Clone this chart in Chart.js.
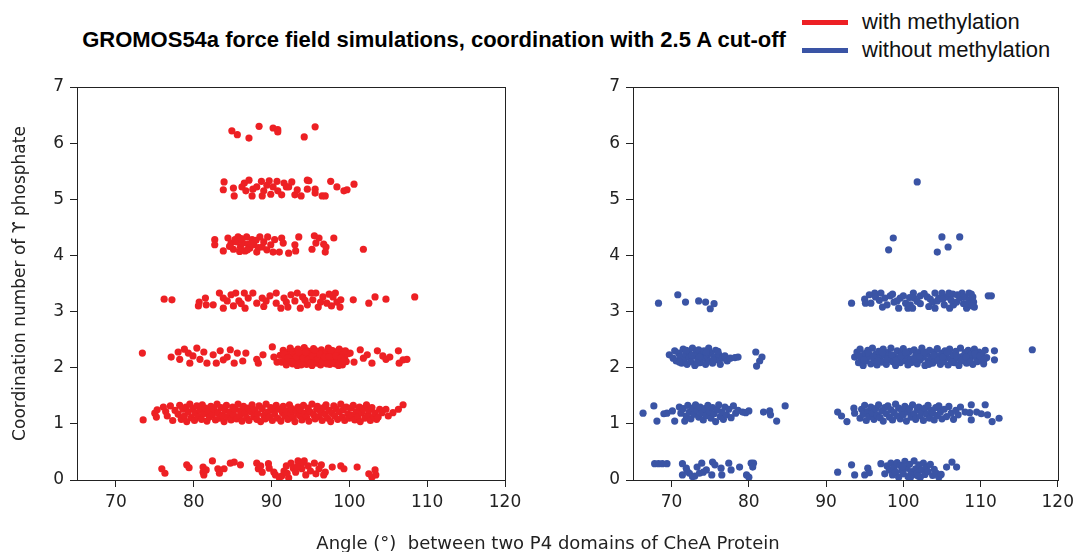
<!DOCTYPE html>
<html>
<head>
<meta charset="utf-8">
<script src="https://cdn.jsdelivr.net/npm/chart.js@4.4.1/dist/chart.umd.min.js"></script>
<style>
  body { margin: 0; width: 1079px; height: 552px; background: #fff; position: relative; overflow: hidden; }
  canvas { position: absolute; top: 0; }
  #leftChart { left: 0; }
  #rightChart { left: 556px; }
  .title { position: absolute; left: 434px; top: 27px; transform: translateX(-50%); white-space: nowrap;
           font-family: "Liberation Sans", Arial, sans-serif; font-weight: bold; font-size: 22px; line-height: 26px; color: #000; }
  .legend-line { position: absolute; left: 802px; width: 46px; height: 5px; }
  .legend-text { position: absolute; left: 862px; font-family: "Liberation Sans", Arial, sans-serif; font-size: 22px; line-height: 26px; color: #111; white-space: nowrap; }
  .xtitle { position: absolute; left: 548px; top: 532px; transform: translateX(-50%); white-space: pre;
            font-family: "DejaVu Sans", sans-serif; font-size: 18px; line-height: 22px; color: #222; }
</style>
</head>
<body>
<div class="title">GROMOS54a force field simulations, coordination with 2.5 A cut-off</div>
<div class="legend-line" style="top:20px; background:#ed2024;"></div>
<div class="legend-text" style="top:9px;">with methylation</div>
<div class="legend-line" style="top:48px; background:#3a54a5;"></div>
<div class="legend-text" style="top:37px;">without methylation</div>
<canvas id="leftChart" width="540" height="552"></canvas>
<canvas id="rightChart" width="523" height="552"></canvas>
<div class="xtitle">Angle (°)  between two P4 domains of CheA Protein</div>
<script>
/*** DATA ***/
const xTicks = [70, 80, 90, 100, 110, 120];
const yTicks = [0, 1, 2, 3, 4, 5, 6, 7];

/* with methylation: [angle, coordination (jittered)] */
const red0 = [[75.9,0.20],[76.3,0.12],[79.1,0.27],[79.4,0.22],[81.2,0.23],[81.2,0.14],[81.3,0.09],[81.6,0.18],[82.4,0.34],
  [83.1,0.20],[83.3,0.12],[83.9,0.20],[84.7,0.30],[85.2,0.32],[86.0,0.27],[88.1,0.30],[88.3,0.20],[88.6,0.25],[88.8,0.14],
  [89.6,0.29],[89.7,0.21],[90.3,0.14],[90.5,0.09],[91.0,0.04],[91.3,0.07],[91.6,0.16],[91.9,0.25],[92.2,0.04],[92.5,0.30],
  [92.8,0.21],[93.1,0.14],[93.4,0.34],[93.7,0.29],[93.9,0.20],[94.2,0.34],[94.4,0.09],[94.7,0.25],[95.0,0.16],[95.5,0.30],
  [95.7,0.11],[96.1,0.20],[96.4,0.27],[96.7,0.09],[96.9,0.14],[97.8,0.23],[98.9,0.25],[99.3,0.20],[101.0,0.23],[102.5,0.11],
  [102.9,0.05],[103.3,0.18],[103.4,0.09],[92.0,0.12],[93.3,0.24],[94.0,0.31]];

const red1 = [[73.5,1.07],[75.0,1.19],[75.2,1.12],[75.3,1.25],[76.1,1.30],[76.4,1.22],[76.6,1.14],[77.0,1.32],[77.3,1.06],[77.6,1.24],
  [78.0,1.17],[78.2,1.33],[78.4,1.08],[78.6,1.26],[78.8,1.14],[79.0,1.30],[79.1,1.04],[79.3,1.21],[79.5,1.35],[79.7,1.11],
  [79.9,1.27],[80.1,1.06],[80.2,1.19],[80.4,1.32],[80.6,1.13],[80.8,1.24],[81.0,1.08],[81.1,1.34],[81.3,1.18],[81.5,1.28],
  [81.7,1.05],[81.9,1.22],[82.0,1.12],[82.2,1.31],[82.4,1.16],[82.6,1.26],[82.8,1.07],[83.0,1.35],[83.1,1.20],[83.3,1.10],
  [83.5,1.29],[83.7,1.15],[83.9,1.04],[84.0,1.24],[84.2,1.33],[84.4,1.12],[84.6,1.21],[84.8,1.07],[85.0,1.30],[85.1,1.17],
  [85.3,1.26],[85.5,1.09],[85.7,1.35],[85.9,1.14],[86.0,1.23],[86.2,1.05],[86.4,1.31],[86.6,1.19],[86.8,1.11],[87.0,1.28],
  [87.1,1.06],[87.3,1.22],[87.5,1.34],[87.7,1.13],[87.9,1.25],[88.1,1.08],[88.2,1.18],[88.4,1.32],[88.6,1.04],[88.8,1.27],
  [89.0,1.15],[89.2,1.09],[89.3,1.35],[89.5,1.21],[89.7,1.12],[89.9,1.29],[90.1,1.06],[90.3,1.24],[90.4,1.17],[90.6,1.33],
  [90.8,1.10],[91.0,1.26],[91.2,1.05],[91.4,1.20],[91.5,1.31],[91.7,1.14],[91.9,1.23],[92.1,1.08],[92.3,1.34],[92.5,1.18],
  [92.6,1.27],[92.8,1.11],[93.0,1.04],[93.2,1.22],[93.4,1.30],[93.6,1.15],[93.7,1.25],[93.9,1.07],[94.1,1.33],[94.3,1.19],
  [94.5,1.12],[94.7,1.28],[94.8,1.05],[95.0,1.21],[95.2,1.35],[95.4,1.16],[95.6,1.09],[95.8,1.26],[95.9,1.31],[96.1,1.13],
  [96.3,1.22],[96.5,1.06],[96.7,1.29],[96.9,1.17],[97.0,1.34],[97.2,1.10],[97.4,1.24],[97.6,1.04],[97.8,1.19],[98.0,1.32],
  [98.1,1.14],[98.3,1.27],[98.5,1.08],[98.7,1.21],[98.9,1.35],[99.1,1.12],[99.2,1.25],[99.4,1.06],[99.6,1.30],[99.8,1.18],
  [100.0,1.10],[100.2,1.28],[100.3,1.15],[100.5,1.33],[100.7,1.07],[100.9,1.22],[101.1,1.13],[101.3,1.30],[101.4,1.04],[101.6,1.20],
  [101.8,1.27],[102.0,1.10],[102.2,1.34],[102.4,1.16],[102.5,1.24],[102.7,1.06],[102.9,1.29],[103.1,1.12],[103.3,1.19],[103.5,1.08],
  [103.7,1.12],[103.9,1.26],[104.2,1.20],[104.7,1.26],[105.0,1.14],[105.6,1.20],[106.3,1.26],[106.9,1.34]];

const red2 = [[73.4,2.26],[77.1,2.19],[78.0,2.28],[78.2,2.15],[78.8,2.33],[79.3,2.26],[79.5,2.08],[79.9,2.21],[80.4,2.35],
  [80.8,2.15],[81.3,2.28],[81.7,2.08],[82.5,2.23],[82.9,2.08],[83.4,2.30],[83.8,2.14],[84.3,2.19],[84.7,2.32],[85.2,2.08],
  [85.6,2.26],[86.3,2.12],[86.7,2.26],[88.1,2.15],[88.3,2.08],[88.9,2.23],[90.1,2.37],[90.3,2.19],[90.7,2.10],
  [91.1,2.22],[91.3,2.10],[91.5,2.31],[91.7,2.16],[91.9,2.05],[92.0,2.27],[92.2,2.12],[92.4,2.35],[92.5,2.20],[92.7,2.07],
  [92.8,2.29],[93.0,2.15],[93.1,2.24],[93.3,2.04],[93.4,2.33],[93.6,2.18],[93.7,2.09],[93.9,2.26],[94.0,2.13],[94.2,2.36],
  [94.3,2.21],[94.5,2.06],[94.6,2.30],[94.8,2.11],[94.9,2.19],[95.1,2.25],[95.2,2.04],[95.4,2.34],[95.5,2.14],[95.7,2.23],
  [95.8,2.08],[96.0,2.28],[96.1,2.17],[96.3,2.05],[96.4,2.32],[96.6,2.12],[96.7,2.21],[96.9,2.09],[97.0,2.27],[97.2,2.15],
  [97.3,2.35],[97.5,2.06],[97.6,2.24],[97.8,2.13],[97.9,2.30],[98.1,2.18],[98.2,2.07],[98.4,2.26],[98.5,2.14],[98.7,2.33],
  [98.8,2.10],[99.0,2.22],[99.1,2.05],[99.3,2.29],[99.4,2.16],[99.6,2.11],[99.8,2.25],
  [91.6,2.25],[92.1,2.18],[92.6,2.11],[93.2,2.19],[93.5,2.27],[93.8,2.05],[94.1,2.17],[94.4,2.28],[94.7,2.14],[95.0,2.08],
  [95.3,2.21],[95.6,2.31],[95.9,2.16],[96.2,2.24],[96.5,2.10],[96.8,2.19],[97.1,2.07],[97.4,2.20],[97.7,2.31],[98.0,2.09],
  [98.3,2.21],[98.6,2.04],[98.9,2.17],[99.2,2.12],[99.5,2.30],
  [100.1,2.26],[100.6,2.10],[101.4,2.32],[101.8,2.17],[102.3,2.23],[102.9,2.08],[103.6,2.30],[104.3,2.21],[104.7,2.15],
  [105.2,2.19],[106.3,2.30],[106.4,2.08],[106.9,2.14],[107.4,2.15]];

const red3 = [[76.2,3.22],[77.2,3.21],[80.7,3.17],[80.6,3.10],[81.5,3.24],[81.6,3.12],[82.5,3.12],[83.3,3.33],[83.8,3.24],
  [83.8,3.06],[84.3,3.19],[84.8,3.30],[85.1,3.10],[85.4,3.33],[85.8,3.19],[86.5,3.33],[86.6,3.06],[87.0,3.24],[87.6,3.33],
  [88.1,3.15],[88.8,3.24],[89.3,3.19],[89.8,3.28],[90.6,3.33],[90.6,3.15],[91.2,3.06],[91.6,3.24],[92.1,3.08],[92.5,3.30],
  [93.0,3.19],[93.3,3.33],[93.7,3.06],[94.0,3.26],[94.6,3.12],[95.1,3.33],[95.3,3.21],[95.7,3.33],[96.0,3.08],[96.6,3.26],
  [97.1,3.15],[97.4,3.31],[97.9,3.26],[98.2,3.33],[98.4,3.17],[98.8,3.08],[98.9,3.21],[100.5,3.21],[102.5,3.15],[103.3,3.26],
  [104.7,3.22],[108.4,3.26],[86.1,3.14],[89.0,3.09],[91.9,3.17],[94.3,3.20],[96.3,3.17],[97.7,3.10]];

const red4 = [[82.7,4.28],[82.7,4.19],[83.8,4.08],[84.4,4.31],[84.8,4.22],[85.1,4.11],[85.3,4.28],[85.7,4.33],[86.0,4.15],
  [86.3,4.22],[86.6,4.08],[86.8,4.33],[87.0,4.20],[87.2,4.13],[87.5,4.28],[87.7,4.19],[88.1,4.06],[88.5,4.33],[88.8,4.15],
  [89.0,4.24],[89.4,4.10],[89.5,4.33],[89.9,4.19],[90.2,4.06],[90.4,4.28],[91.0,4.06],[91.3,4.31],[91.5,4.22],[92.2,4.04],
  [93.0,4.19],[93.1,4.08],[93.5,4.33],[95.2,4.11],[95.5,4.35],[95.7,4.22],[96.1,4.31],[96.7,4.20],[96.9,4.06],[97.0,4.15],
  [98.0,4.31],[101.8,4.11],[84.6,4.16],[85.5,4.24],[86.1,4.30],[86.9,4.10],[87.4,4.21],[88.0,4.27],[88.3,4.14],[85.9,4.07]];

const red5 = [[83.9,5.31],[83.8,5.17],[85.1,5.20],[85.2,5.06],[86.2,5.22],[86.5,5.29],[87.1,5.34],[86.7,5.15],[87.5,5.06],
  [87.6,5.18],[88.1,5.22],[88.7,5.32],[88.8,5.06],[89.0,5.15],[89.4,5.25],[89.7,5.33],[89.9,5.09],[90.2,5.22],[90.7,5.32],
  [90.8,5.15],[91.3,5.08],[91.6,5.29],[91.9,5.22],[92.2,5.22],[92.6,5.31],[93.0,5.08],[93.3,5.17],[93.8,5.06],[94.6,5.34],
  [94.8,5.33],[94.6,5.18],[95.6,5.18],[95.6,5.11],[96.5,5.06],[96.9,5.06],[97.6,5.32],[98.4,5.22],[99.3,5.15],[99.7,5.17],
  [100.6,5.27]];

const red6 = [[84.9,6.22],[85.6,6.15],[87.1,6.09],[88.4,6.30],[90.2,6.27],[90.8,6.24],[90.8,6.20],[94.2,6.11],[95.6,6.29]];

/* without methylation */
const blue0 = [[67.8,0.29],[68.3,0.29],[68.8,0.29],[69.4,0.29],[71.4,0.29],[71.4,0.09],[71.9,0.21],[72.3,0.12],[72.7,0.06],
  [73.3,0.23],[73.6,0.12],[73.9,0.30],[74.5,0.18],[75.2,0.09],[75.3,0.32],[75.6,0.27],[76.4,0.21],[76.5,0.09],[77.4,0.30],
  [77.7,0.18],[78.8,0.23],[79.7,0.09],[80.0,0.05],[80.3,0.30],[80.6,0.30],[80.5,0.23],[72.0,0.16],[73.0,0.07],[74.1,0.14],
  [91.5,0.14],[93.3,0.27],[93.7,0.09],[95.0,0.09],[95.4,0.21],[95.6,0.13],[97.1,0.29],[97.6,0.11],
  [97.9,0.25],[98.2,0.18],[98.4,0.30],[98.6,0.09],[98.8,0.22],[99.0,0.14],[99.2,0.31],[99.4,0.05],[99.6,0.26],[99.8,0.17],
  [100.0,0.11],[100.2,0.33],[100.4,0.21],[100.6,0.06],[100.8,0.28],[101.0,0.15],[101.2,0.09],[101.4,0.34],[101.6,0.20],
  [101.8,0.12],[102.0,0.27],[102.2,0.05],[102.4,0.18],[102.6,0.30],[102.8,0.10],[103.0,0.23],[103.2,0.15],[103.5,0.28],
  [103.8,0.08],[104.0,0.19],[104.3,0.12],[104.6,0.05],[104.9,0.10],[105.6,0.23],[106.3,0.32],[106.9,0.23],[100.9,0.04],
  [101.9,0.07],[99.9,0.24]];

const blue1 = [[66.3,1.19],[67.7,1.32],[68.1,1.05],[69.0,1.18],[69.4,1.19],[70.1,1.23],[70.4,1.05],[71.0,1.30],[71.2,1.19],
  [71.7,1.05],[71.5,1.27],[71.9,1.14],[72.1,1.33],[72.3,1.21],[72.5,1.09],[72.7,1.28],[72.9,1.17],[73.1,1.34],[73.3,1.24],
  [73.5,1.12],[73.7,1.30],[73.9,1.19],[74.1,1.07],[74.3,1.27],[74.5,1.15],[74.7,1.33],[74.9,1.22],[75.1,1.10],[75.3,1.29],
  [75.5,1.18],[75.7,1.04],[75.9,1.25],[76.1,1.34],[76.3,1.13],[76.5,1.21],[76.7,1.08],[76.9,1.30],[77.1,1.16],[77.4,1.26],
  [77.7,1.11],[78.0,1.32],[78.3,1.19],[78.6,1.24],[79.2,1.21],[79.6,1.20],[80.0,1.23],[81.9,1.21],[82.7,1.23],[82.8,1.16],
  [83.6,1.05],[84.7,1.32],
  [91.5,1.21],[92.0,1.14],[92.7,1.04],[93.6,1.28],[93.7,1.19],
  [94.4,1.10],[94.6,1.26],[94.8,1.17],[95.0,1.33],[95.2,1.06],[95.4,1.22],[95.6,1.13],[95.8,1.30],[96.0,1.19],[96.2,1.08],
  [96.4,1.27],[96.6,1.15],[96.8,1.34],[97.0,1.11],[97.2,1.23],[97.4,1.05],[97.6,1.29],[97.8,1.18],[98.0,1.32],[98.2,1.12],
  [98.4,1.25],[98.6,1.07],[98.8,1.20],[99.0,1.35],[99.2,1.14],[99.4,1.28],[99.6,1.09],[99.8,1.23],[100.0,1.16],[100.2,1.31],
  [100.4,1.05],[100.6,1.21],[100.8,1.27],[101.0,1.12],[101.2,1.34],[101.4,1.18],[101.6,1.08],[101.8,1.25],[102.0,1.30],
  [102.2,1.14],[102.4,1.22],[102.6,1.06],[102.8,1.28],[103.0,1.17],[103.2,1.33],[103.4,1.10],[103.6,1.24],[103.8,1.19],
  [104.0,1.07],[104.2,1.29],[104.4,1.15],[104.6,1.32],[104.8,1.21],[105.0,1.09],[105.3,1.26],[105.6,1.13],[105.9,1.31],
  [106.2,1.19],[106.5,1.08],[106.8,1.24],[107.1,1.16],[107.4,1.30],[108.0,1.21],[108.6,1.20],
  [108.8,1.34],[108.8,1.07],[109.5,1.21],[110.1,1.18],[110.6,1.34],[110.9,1.16],[111.5,1.04],[112.4,1.10]];

const blue2 = [[69.7,2.23],[70.2,2.17],[70.4,2.30],[70.6,2.12],[70.9,2.26],[71.1,2.20],[71.3,2.08],[71.5,2.33],[71.6,2.15],
  [71.8,2.24],[72.0,2.06],[72.2,2.29],[72.3,2.18],[72.5,2.11],[72.7,2.35],[72.9,2.21],[73.0,2.04],[73.2,2.27],[73.4,2.14],
  [73.5,2.32],[73.7,2.09],[73.9,2.23],[74.1,2.17],[74.2,2.30],[74.4,2.06],[74.6,2.20],[74.8,2.35],[74.9,2.12],[75.1,2.26],
  [75.3,2.08],[75.5,2.19],[75.7,2.31],[75.9,2.14],[76.1,2.24],[76.3,2.06],[76.6,2.17],[76.9,2.21],[77.2,2.12],[77.6,2.17],
  [78.2,2.18],[78.6,2.19],[80.9,2.28],[81.4,2.12],[81.0,2.03],[81.7,2.19],[71.0,2.10],[72.6,2.22],[73.6,2.19],[74.5,2.27],
  [75.4,2.13],[76.0,2.29],[73.3,2.08],[71.9,2.31],
  [93.7,2.19],[94.0,2.28],[94.2,2.09],[94.4,2.33],[94.6,2.16],[94.8,2.04],[95.0,2.25],[95.2,2.12],[95.4,2.31],[95.6,2.20],
  [95.8,2.07],[96.0,2.35],[96.2,2.14],[96.4,2.24],[96.6,2.05],[96.8,2.29],[97.0,2.17],[97.2,2.10],[97.4,2.33],[97.6,2.22],
  [97.8,2.06],[98.0,2.27],[98.2,2.15],[98.4,2.35],[98.6,2.11],[98.8,2.20],[99.0,2.04],[99.2,2.30],[99.4,2.18],[99.6,2.09],
  [99.8,2.26],[100.0,2.34],[100.2,2.13],[100.4,2.22],[100.6,2.05],[100.8,2.29],[101.0,2.16],[101.2,2.10],[101.4,2.32],
  [101.6,2.21],[101.8,2.07],[102.0,2.27],[102.2,2.14],[102.4,2.35],[102.6,2.19],[102.8,2.04],[103.0,2.24],[103.2,2.12],
  [103.4,2.31],[103.6,2.17],[103.8,2.08],[104.0,2.28],[104.2,2.15],[104.4,2.34],[104.6,2.21],[104.8,2.06],[105.0,2.26],
  [105.2,2.11],[105.4,2.30],[105.6,2.18],[105.8,2.05],[106.0,2.33],[106.2,2.14],[106.4,2.23],[106.6,2.09],[106.8,2.29],
  [107.0,2.17],[107.2,2.04],[107.4,2.35],[107.6,2.20],[107.8,2.12],[108.0,2.27],[108.2,2.08],[108.4,2.31],[108.6,2.16],
  [108.8,2.24],[109.0,2.06],[109.2,2.33],[109.4,2.19],[109.6,2.11],[109.8,2.28],[110.0,2.14],[110.2,2.22],[110.4,2.07],
  [110.6,2.31],[110.8,2.18],
  [94.3,2.21],[94.9,2.14],[95.5,2.26],[96.1,2.19],[96.7,2.12],[97.3,2.27],[97.9,2.15],[98.5,2.23],[99.1,2.13],[99.7,2.21],
  [100.3,2.27],[100.9,2.09],[101.5,2.15],[102.1,2.20],[102.7,2.28],[103.3,2.06],[103.9,2.22],[104.5,2.13],[105.1,2.19],
  [105.7,2.27],[106.3,2.10],[106.9,2.21],[107.5,2.13],[108.1,2.19],[108.7,2.10],[109.3,2.25],[109.9,2.21],[110.5,2.15],
  [111.8,2.30],[111.8,2.14],[116.7,2.32]];

const blue3 = [[68.3,3.15],[70.8,3.30],[71.8,3.17],[73.5,3.19],[74.4,3.17],[75.0,3.05],[75.5,3.14],
  [93.3,3.15],[95.0,3.22],[95.1,3.15],[95.8,3.15],[96.3,3.33],[96.4,3.26],[97.1,3.33],[97.3,3.08],[97.6,3.24],[98.3,3.28],
  [98.8,3.17],[99.4,3.06],[99.6,3.24],[100.0,3.28],[100.3,3.15],[100.6,3.06],[100.9,3.12],[101.2,3.06],[101.3,3.33],
  [101.4,3.24],[102.2,3.28],[102.2,3.14],[103.1,3.26],[103.5,3.22],[103.8,3.17],[104.1,3.33],[104.1,3.06],[104.6,3.24],
  [105.0,3.33],[105.3,3.12],[105.6,3.26],[105.9,3.33],[106.0,3.06],[106.4,3.31],[106.5,3.12],[106.9,3.17],[107.3,3.24],
  [107.6,3.33],[107.8,3.14],[108.0,3.26],[108.2,3.06],[108.5,3.33],[108.6,3.21],[108.8,3.31],[109.1,3.17],[109.2,3.08],
  [111.0,3.28],[111.4,3.28],[95.6,3.30],[96.9,3.20],[97.9,3.12],[98.6,3.31],[99.2,3.19],[100.8,3.25],[101.8,3.18],
  [102.7,3.32],[103.3,3.09],[104.4,3.19],[105.1,3.22],[106.2,3.20],[107.0,3.30],[108.3,3.14],[109.0,3.26],[108.9,3.10]];

const blue4 = [[98.7,4.31],[98.1,4.10],[105.0,4.33],[104.4,4.06],[105.8,4.15],[107.3,4.33]];
const blue5 = [[101.8,5.31]];

const redPoints = [...red0, ...red1, ...red2, ...red3, ...red4, ...red5, ...red6];
const bluePoints = [...blue0, ...blue1, ...blue2, ...blue3, ...blue4, ...blue5];

const RED = '#ed2024';
const BLUE = '#3a54a5';
const INK = '#222';
const tickFont = { family: 'DejaVu Sans', size: 17 };

/* box round the plot area (top and right sides too) */
const frame = {
    id: 'frame',
    afterDraw(chart) {
        const { ctx, chartArea: a } = chart;
        ctx.save();
        ctx.strokeStyle = INK;
        ctx.lineWidth = 1;
        ctx.strokeRect(Math.round(a.left) + 0.5, Math.round(a.top) + 0.5,
            Math.round(a.right - a.left), Math.round(a.bottom - a.top));
        ctx.restore();
    }
};

function makePanel(id, points, color, rightPad, yTitle) {
    return new Chart(document.getElementById(id), {
        type: 'scatter',
        data: {
            datasets: [{
                data: points.map(p => ({ x: p[0], y: p[1] })),
                backgroundColor: color,
                borderWidth: 0,
                pointRadius: 3.6,
                pointHoverRadius: 3.6
            }]
        },
        options: {
            responsive: false,
            animation: false,
            devicePixelRatio: 1,
            layout: { padding: { left: 0, right: rightPad, top: 87, bottom: 32 } },
            plugins: { legend: { display: false }, tooltip: { enabled: false } },
            scales: {
                x: {
                    type: 'linear', min: 65, max: 120,
                    afterBuildTicks: s => { s.ticks = xTicks.map(v => ({ value: v })); },
                    afterFit: s => { s.height = 40; },
                    ticks: { font: tickFont, color: INK, padding: 5, maxRotation: 0 },
                    grid: { drawOnChartArea: false, tickLength: 7, tickColor: INK },
                    border: { color: INK }
                },
                y: {
                    type: 'linear', min: 0, max: 7,
                    afterBuildTicks: s => { s.ticks = yTicks.map(v => ({ value: v })); },
                    afterFit: s => { s.width = 77; },
                    ticks: { font: tickFont, color: INK, padding: 6 },
                    grid: { drawOnChartArea: false, tickLength: 7, tickColor: INK },
                    border: { color: INK },
                    title: {
                        display: !!yTitle, text: yTitle || '',
                        font: tickFont, color: INK, padding: { top: 10, bottom: 0 }
                    }
                }
            }
        },
        plugins: [frame]
    });
}

makePanel('leftChart', redPoints, RED, 35, 'Coordination number of ϒ phosphate');
makePanel('rightChart', bluePoints, BLUE, 17, null);
</script>
</body>
</html>
